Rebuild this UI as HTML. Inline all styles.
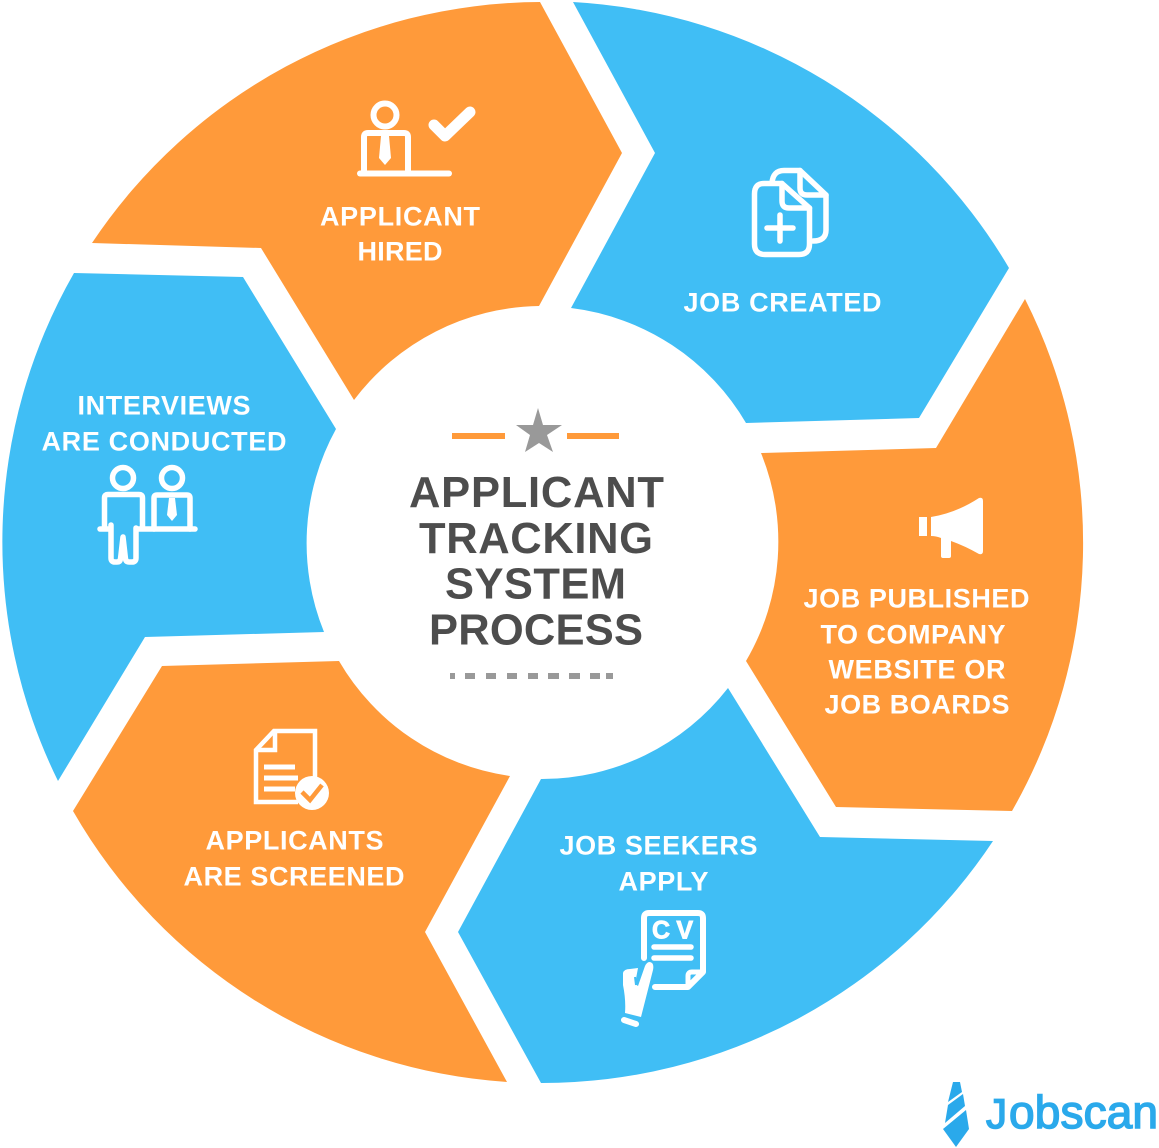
<!DOCTYPE html>
<html><head><meta charset="utf-8"><style>
html,body{margin:0;padding:0;background:#fff}
svg{display:block}
.l{font:bold 27px "Liberation Sans",sans-serif;fill:#fff}
.t{font:bold 43.500px "Liberation Sans",sans-serif;fill:#4d4d4d}
</style></head><body>
<svg width="1159" height="1148" viewBox="0 0 1159 1148" xmlns="http://www.w3.org/2000/svg">
<g fill="#ff9a3a">
<path d="M92,243A541,541 0 0 1 540,2L622,153L539,306A236,236 0 0 0 354,400L261,248Z"/>
<path d="M1025,299A541,541 0 0 1 1012,811L836,807L746,661A236,236 0 0 0 761,453L936,448Z"/>
<path d="M507,1082A541,541 0 0 1 73,811L162,666L339,661A236,236 0 0 0 510,776L425,932Z"/>
</g>
<g fill="#40bef5">
<path d="M573,2A541,541 0 0 1 1009,268L919,418L746,423A236,236 0 0 0 571,308L655,153Z"/>
<path d="M993,841A541,541 0 0 1 541,1083L458,932L541,779A236,236 0 0 0 728,688L820,837Z"/>
<path d="M58,781A541,541 0 0 1 74,273L243,277L336,429A236,236 0 0 0 324,632L145,637Z"/>
</g>

<!-- centre -->
<rect x="452" y="433" width="53" height="6" fill="#ff9a3a"/>
<rect x="567" y="433" width="52" height="6" fill="#ff9a3a"/>
<polygon points="538,408 543,425 562,425 547,435 553,452 539,443 525,452 530,435 516,425 533,425" fill="#999"/>
<text class="t" x="409" y="507" textLength="255" lengthAdjust="spacing">APPLICANT</text>
<text class="t" x="419" y="553" textLength="234" lengthAdjust="spacing">TRACKING</text>
<text class="t" x="445" y="598.500" textLength="181" lengthAdjust="spacing">SYSTEM</text>
<text class="t" x="429" y="644.500" textLength="214" lengthAdjust="spacing">PROCESS</text>
<g fill="#999">
<rect x="450" y="673" width="5" height="6"/><rect x="465" y="673" width="10" height="6"/><rect x="486" y="673" width="10" height="6"/><rect x="507" y="673" width="10" height="6"/><rect x="528" y="673" width="10" height="6"/><rect x="548" y="673" width="11" height="6"/><rect x="569" y="673" width="11" height="6"/><rect x="590" y="673" width="10" height="6"/><rect x="606" y="673" width="7" height="6"/>
</g>

<!-- labels -->
<text class="l" x="320" y="225.500" textLength="160" lengthAdjust="spacing">APPLICANT</text>
<text class="l" x="357.500" y="260.500" textLength="85" lengthAdjust="spacing">HIRED</text>
<text class="l" x="683.500" y="311.500" textLength="198" lengthAdjust="spacing">JOB CREATED</text>
<text class="l" x="77.500" y="414.500" textLength="173" lengthAdjust="spacing">INTERVIEWS</text>
<text class="l" x="41.500" y="450.500" textLength="245" lengthAdjust="spacing">ARE CONDUCTED</text>
<text class="l" x="803.500" y="607.500" textLength="226" lengthAdjust="spacing">JOB PUBLISHED</text>
<text class="l" x="820.500" y="643.500" textLength="185" lengthAdjust="spacing">TO COMPANY</text>
<text class="l" x="828.500" y="678.500" textLength="177" lengthAdjust="spacing">WEBSITE OR</text>
<text class="l" x="824.500" y="713.500" textLength="185" lengthAdjust="spacing">JOB BOARDS</text>
<text class="l" x="559.500" y="854.500" textLength="198" lengthAdjust="spacing">JOB SEEKERS</text>
<text class="l" x="618.500" y="890.500" textLength="90" lengthAdjust="spacing">APPLY</text>
<text class="l" x="205.500" y="849.500" textLength="178" lengthAdjust="spacing">APPLICANTS</text>
<text class="l" x="183.500" y="885.500" textLength="221" lengthAdjust="spacing">ARE SCREENED</text>

<!-- hired icon -->
<g fill="none" stroke="#fff" stroke-width="6" stroke-linecap="round" stroke-linejoin="round">
<circle cx="385" cy="115" r="11.500"/>
<path d="M364,173V137Q364,133 368,133H404Q408,133 408,137V173"/>
<path d="M360,173.500H449"/>
<path d="M434,125L445,136L470,112" stroke-width="11"/>
</g>
<path d="M381,136H389L391,158L385,165L379,158Z" fill="#fff"/>

<!-- job created icon -->
<g fill="none" stroke="#fff" stroke-width="5.500" stroke-linecap="round" stroke-linejoin="round">
<path d="M772,183Q773,170.500 784,170.500H800L826,195V230Q826,241 813,241"/>
<path d="M800,170.500V188Q800,195 807,195H826"/>
<path d="M764,183.500H782L809.500,208V244Q809.500,254.500 799,254.500H765Q754.500,254.500 754.500,244V194Q754.500,183.500 764,183.500Z"/>
<path d="M782,183.500V201Q782,208 789,208H809.500"/>
<path d="M767,228H793M780,215V241"/>
</g>

<!-- megaphone -->
<g fill="#fff">
<rect x="919" y="517" width="8" height="19"/>
<path d="M931,517Q956,513 979,498Q983,497 983,501V551Q983,555 979,554Q965,546 951,541V556Q951,558 949,558H943Q941,558 941,556V538Q936,536 931,536Z"/>
</g>

<!-- cv icon -->
<g fill="none" stroke="#fff" stroke-width="6" stroke-linejoin="round" stroke-linecap="round">
<path d="M644,958V918Q644,913 649,913H698Q703,913 703,918V972L688,987H655"/>
<path d="M703,972H692Q688,972 688,976V987" stroke-width="5"/>
<path d="M654,947H691M654,958H691" stroke-width="5.500"/>
</g>
<text x="652" y="938.500" font-family="Liberation Sans,sans-serif" font-weight="bold" font-size="25" fill="#fff" stroke="#fff" stroke-width="0.900" textLength="41" lengthAdjust="spacing">CV</text>
<path d="M623,973Q624,969 630,969L638,968L635,984L638,986L645,966Q648,960 652,963Q654,965 653,970L641,1017L625,1013Q626,1000 623,985Z" fill="#fff"/>
<path d="M635,977L636,985" stroke="#40bef5" stroke-width="2"/>
<path d="M624,1020L636,1024" stroke="#fff" stroke-width="6" stroke-linecap="round"/>

<!-- screened icon -->
<g fill="none" stroke="#fff" stroke-width="4.500">
<path d="M315,780V731H274L256,750V802H298"/>
<path d="M275,731V750H256"/>
<path d="M264,767H295M264,778H298M264,789H295" stroke-width="5"/>
</g>
<circle cx="312" cy="793" r="17" fill="#fff"/>
<path d="M302,792L310,800L322,785" fill="none" stroke="#ff9a3a" stroke-width="4.500"/>

<!-- interviews icon -->
<g fill="none" stroke="#fff" stroke-width="5.500" stroke-linecap="round" stroke-linejoin="round" transform="translate(0,1)">
<circle cx="123" cy="477" r="10.500"/>
<circle cx="172" cy="477" r="10.500"/>
<path d="M104.500,527V497Q104.500,493.500 108,493.500H139Q142.500,493.500 142.500,497V527"/>
<path d="M111,524V557Q111,561 115,561H117Q120,561 120.500,558L123,536L125.500,558Q126,561 129,561H132Q136,561 136,557V527"/>
<path d="M100,528H110M138,528H195"/>
<path d="M154,528V497Q154,494 157,494H187Q190,494 190,497V528"/>
</g>
<path d="M169,498H175L177,515L172,521L167,515Z" fill="#fff"/>

<!-- logo -->
<g fill="#2aa9eb">
<polygon points="953,1082 960,1082 962,1092 948,1102"/>
<polygon points="948,1105 963,1094 965,1106 945,1123"/>
<polygon points="943,1129 966,1110 969,1129 956,1147"/>
<text x="986" y="1128" font-family="Liberation Sans,sans-serif" font-size="42" stroke="#2aa9eb" stroke-width="1.500">J</text>
<text x="1009" y="1128" font-family="Liberation Sans,sans-serif" font-size="46" stroke="#2aa9eb" stroke-width="1.500" textLength="149" lengthAdjust="spacing">obscan</text>
</g>
</svg>
</body></html>
